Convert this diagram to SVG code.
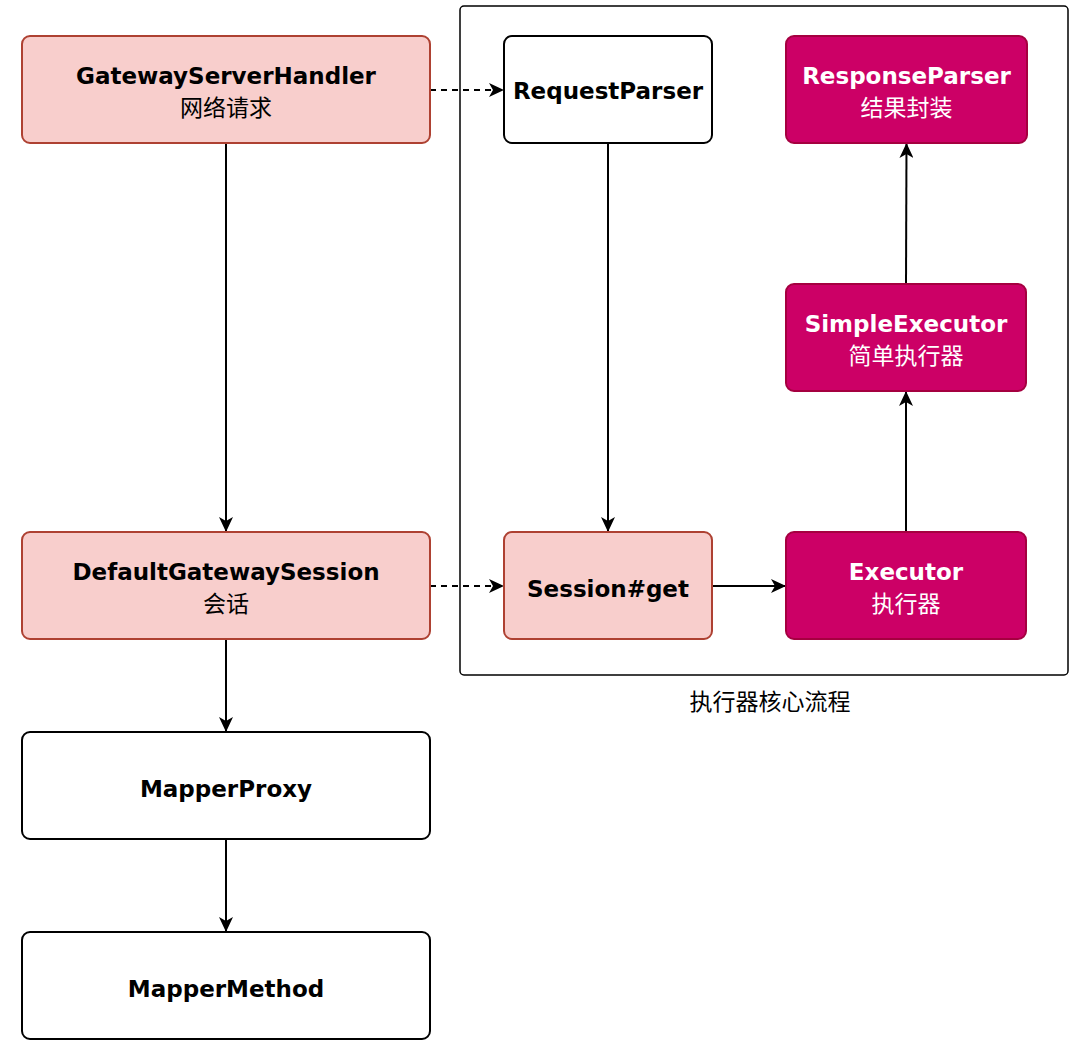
<svg xmlns="http://www.w3.org/2000/svg" width="1080" height="1046" viewBox="0 0 1080 1046">
<style>
.n{stroke-width:2}
.pink{fill:#f8cecc;stroke:#ae4132}
.mag{fill:#cc0066;stroke:#a50040}
.wht{fill:#ffffff;stroke:#000000}
.en{font-family:"DejaVu Sans","Liberation Sans",sans-serif;font-weight:bold;font-size:23px;text-anchor:middle}
.cn{font-family:"Noto Sans CJK SC","Noto Sans",sans-serif;font-size:23px;text-anchor:middle}
.dk{fill:#000000}
.lt{fill:#ffffff}
.c{fill:none;stroke:#000000;stroke-width:2}
.d{stroke-dasharray:6 5}
</style>
<defs>
<marker id="ar" viewBox="0 0 15 14" refX="14" refY="7" markerWidth="15" markerHeight="14" markerUnits="userSpaceOnUse" orient="auto">
<path d="M0,0 L15,7 L0,14 L4,7 z" fill="#000000"/>
</marker>
</defs>
<rect id="container" x="460" y="6" width="608" height="669" rx="4" fill="none" stroke="#000000" stroke-width="1.5"/>
<text class="cn dk" x="770" y="710">执行器核心流程</text>
<g id="connectors">
<path class="c" d="M226,143 L226,531" marker-end="url(#ar)"/>
<path class="c d" d="M430,90 L503,90" marker-end="url(#ar)"/>
<path class="c" d="M608,143 L608,531" marker-end="url(#ar)"/>
<path class="c" d="M712,586 L785,586" marker-end="url(#ar)"/>
<path class="c" d="M906,532 L906,392" marker-end="url(#ar)"/>
<path class="c" d="M906,284 L906.5,144" marker-end="url(#ar)"/>
<path class="c d" d="M430,586 L503,586" marker-end="url(#ar)"/>
<path class="c" d="M226,639 L226,731" marker-end="url(#ar)"/>
<path class="c" d="M226,839 L226,931" marker-end="url(#ar)"/>
</g>
<g id="GatewayServerHandler">
<rect class="n pink" x="22" y="36" width="408" height="107" rx="8"/>
<text class="en dk" x="226" y="83.5">GatewayServerHandler</text>
<text class="cn dk" x="226" y="116">网络请求</text>
</g>
<g id="RequestParser">
<rect class="n wht" x="504" y="36" width="208" height="107" rx="8"/>
<text class="en dk" x="608" y="99">RequestParser</text>
</g>
<g id="ResponseParser">
<rect class="n mag" x="786" y="36" width="241" height="107" rx="8"/>
<text class="en lt" x="906.5" y="83.5">ResponseParser</text>
<text class="cn lt" x="906.5" y="116">结果封装</text>
</g>
<g id="SimpleExecutor">
<rect class="n mag" x="786" y="284" width="240" height="107" rx="8"/>
<text class="en lt" x="906" y="331.5">SimpleExecutor</text>
<text class="cn lt" x="906" y="364">简单执行器</text>
</g>
<g id="Executor">
<rect class="n mag" x="786" y="532" width="240" height="107" rx="8"/>
<text class="en lt" x="906" y="579.5">Executor</text>
<text class="cn lt" x="906" y="612">执行器</text>
</g>
<g id="SessionGet">
<rect class="n pink" x="504" y="532" width="208" height="107" rx="8"/>
<text class="en dk" x="608" y="597">Session#get</text>
</g>
<g id="DefaultGatewaySession">
<rect class="n pink" x="22" y="532" width="408" height="107" rx="8"/>
<text class="en dk" x="226" y="579.5">DefaultGatewaySession</text>
<text class="cn dk" x="226" y="612">会话</text>
</g>
<g id="MapperProxy">
<rect class="n wht" x="22" y="732" width="408" height="107" rx="8"/>
<text class="en dk" x="226" y="797">MapperProxy</text>
</g>
<g id="MapperMethod">
<rect class="n wht" x="22" y="932" width="408" height="107" rx="8"/>
<text class="en dk" x="226" y="997">MapperMethod</text>
</g>
</svg>
